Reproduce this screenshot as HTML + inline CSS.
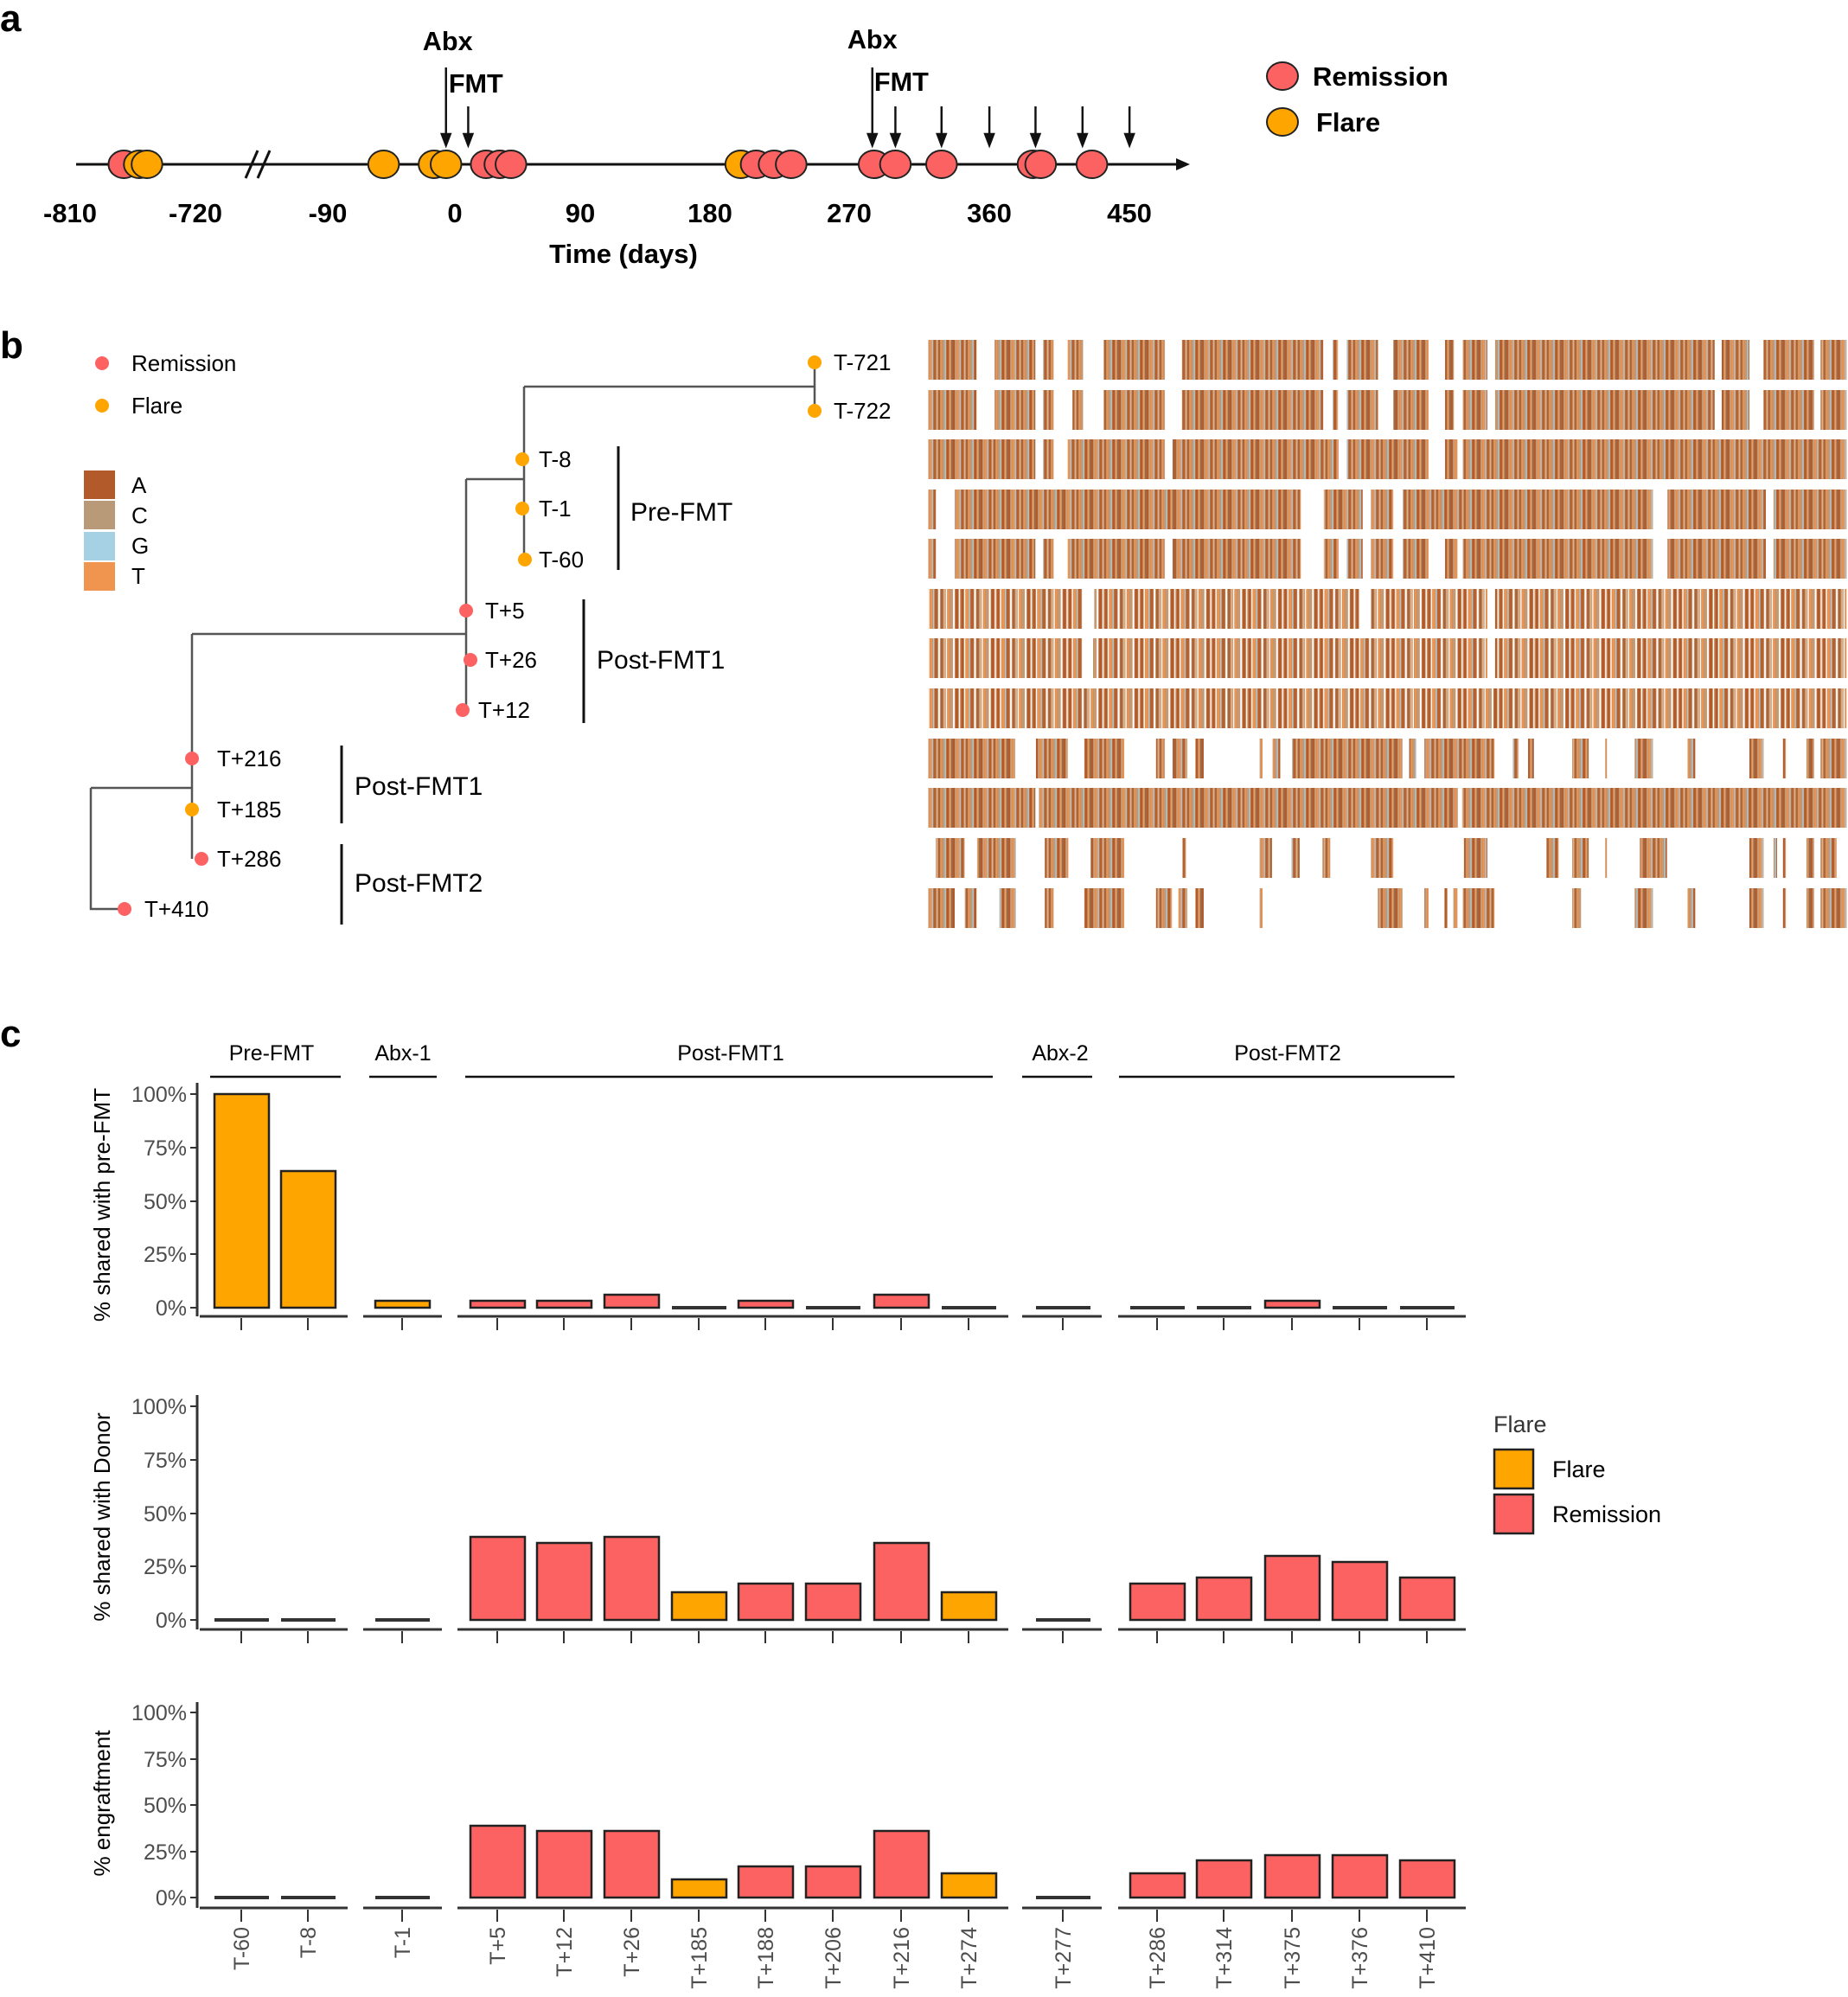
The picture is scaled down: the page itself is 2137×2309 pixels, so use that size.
<!DOCTYPE html>
<html><head><meta charset="utf-8"><style>
html,body{margin:0;padding:0;background:#fff;}
svg{display:block;font-family:"Liberation Sans",sans-serif;}
.n{font-family:"Liberation Sans Narrow","Liberation Sans",sans-serif;font-weight:bold;}
.yt{font-size:25px;fill:#4d4d4d;text-anchor:end;font-family:"Liberation Sans Narrow","Liberation Sans",sans-serif;}
.xt{font-size:25px;fill:#4d4d4d;text-anchor:end;}
.R{fill:#fd6262;stroke:#222;stroke-width:2.5;}
.O{fill:#ffa500;stroke:#222;stroke-width:2.5;}
.Z{fill:#333;}
</style></head><body>
<svg width="2137" height="2309" viewBox="0 0 2137 2309" xmlns="http://www.w3.org/2000/svg">
<defs>
<pattern id="st" patternUnits="userSpaceOnUse" width="47" height="50">
<rect width="47" height="50" fill="#c98a5a"/>
<rect x="0" width="3" height="50" fill="#b25a2a"/>
<rect x="4" width="2" height="50" fill="#c8a282"/>
<rect x="7" width="3" height="50" fill="#ef9550"/>
<rect x="11" width="2" height="50" fill="#a9cde0"/>
<rect x="14" width="4" height="50" fill="#b5602f"/>
<rect x="19" width="2" height="50" fill="#d9b38f"/>
<rect x="22" width="3" height="50" fill="#a8643a"/>
<rect x="26" width="2" height="50" fill="#ef9550"/>
<rect x="29" width="3" height="50" fill="#bf9b7a"/>
<rect x="33" width="2" height="50" fill="#a9cde0"/>
<rect x="36" width="4" height="50" fill="#b25a2a"/>
<rect x="41" width="2" height="50" fill="#e8a06a"/>
<rect x="44" width="3" height="50" fill="#9c6a48"/>
</pattern>
<pattern id="sp" patternUnits="userSpaceOnUse" width="61" height="50">
<rect width="61" height="50" fill="#c98a5a"/>
<rect x="0" width="4" height="50" fill="#b25a2a"/>
<rect x="5" width="2" height="50" fill="#fff"/>
<rect x="8" width="4" height="50" fill="#ef9550"/>
<rect x="13" width="2" height="50" fill="#a9cde0"/>
<rect x="16" width="5" height="50" fill="#b5602f"/>
<rect x="22" width="3" height="50" fill="#fff"/>
<rect x="26" width="4" height="50" fill="#a8643a"/>
<rect x="31" width="3" height="50" fill="#d9b38f"/>
<rect x="35" width="2" height="50" fill="#fff"/>
<rect x="38" width="3" height="50" fill="#ef9550"/>
<rect x="42" width="4" height="50" fill="#bf9b7a"/>
<rect x="47" width="3" height="50" fill="#fff"/>
<rect x="51" width="5" height="50" fill="#b25a2a"/>
<rect x="57" width="2" height="50" fill="#fff"/>
</pattern>
</defs>

<!-- Panel a -->
<text x="0" y="36" class="n" font-size="44">a</text>
<line x1="88" y1="190" x2="1362" y2="190" stroke="#111" stroke-width="3"/>
<polygon points="1376,190 1360,183 1360,197" fill="#111"/>
<line x1="284" y1="206" x2="298" y2="174" stroke="#111" stroke-width="3"/>
<line x1="298" y1="206" x2="312" y2="174" stroke="#111" stroke-width="3"/>
<g transform="scale(0.988,1)">
<g stroke="#222" stroke-width="2">
<ellipse cx="145" cy="190" rx="18" ry="16" fill="#fd6262"/>
<ellipse cx="163" cy="190" rx="18" ry="16" fill="#ffa500"/>
<ellipse cx="172" cy="190" rx="18" ry="16" fill="#ffa500"/>
<ellipse cx="449" cy="190" rx="18" ry="16" fill="#ffa500"/>
<ellipse cx="508" cy="190" rx="18" ry="16" fill="#ffa500"/>
<ellipse cx="522" cy="190" rx="18" ry="16" fill="#ffa500"/>
<ellipse cx="569" cy="190" rx="18" ry="16" fill="#fd6262"/>
<ellipse cx="585" cy="190" rx="18" ry="16" fill="#fd6262"/>
<ellipse cx="598" cy="190" rx="18" ry="16" fill="#fd6262"/>
<ellipse cx="867" cy="190" rx="18" ry="16" fill="#ffa500"/>
<ellipse cx="885" cy="190" rx="18" ry="16" fill="#fd6262"/>
<ellipse cx="906" cy="190" rx="18" ry="16" fill="#fd6262"/>
<ellipse cx="926" cy="190" rx="18" ry="16" fill="#fd6262"/>
<ellipse cx="1023" cy="190" rx="18" ry="16" fill="#fd6262"/>
<ellipse cx="1048" cy="190" rx="18" ry="16" fill="#fd6262"/>
<ellipse cx="1102" cy="190" rx="18" ry="16" fill="#fd6262"/>
<ellipse cx="1209" cy="190" rx="18" ry="16" fill="#fd6262"/>
<ellipse cx="1218" cy="190" rx="18" ry="16" fill="#fd6262"/>
<ellipse cx="1278" cy="190" rx="18" ry="16" fill="#fd6262"/>
</g>
<g stroke="#111" stroke-width="2.5" fill="#111">
<line x1="522" y1="78" x2="522" y2="158"/><polygon points="522,168 517,155 527,155"/>
<line x1="548" y1="123" x2="548" y2="158"/><polygon points="548,168 543,155 553,155"/>
<line x1="1021" y1="78" x2="1021" y2="158"/><polygon points="1021,168 1016,155 1026,155"/>
<line x1="1048" y1="123" x2="1048" y2="158"/><polygon points="1048,168 1043,155 1053,155"/>
<line x1="1102" y1="123" x2="1102" y2="158"/><polygon points="1102,168 1097,155 1107,155"/>
<line x1="1158" y1="123" x2="1158" y2="158"/><polygon points="1158,168 1153,155 1163,155"/>
<line x1="1212" y1="123" x2="1212" y2="158"/><polygon points="1212,168 1207,155 1217,155"/>
<line x1="1267" y1="123" x2="1267" y2="158"/><polygon points="1267,168 1262,155 1272,155"/>
<line x1="1322" y1="123" x2="1322" y2="158"/><polygon points="1322,168 1317,155 1327,155"/>
</g>
<g class="n" font-size="31" text-anchor="middle">
<text x="524" y="58">Abx</text>
<text x="1021" y="56">Abx</text>
<text x="557" y="107">FMT</text>
<text x="1055" y="105">FMT</text>
</g>
</g>
<g class="n" font-size="31" text-anchor="middle">
<text x="81" y="257">-810</text>
<text x="226" y="257">-720</text>
<text x="379" y="257">-90</text>
<text x="526" y="257">0</text>
<text x="671" y="257">90</text>
<text x="821" y="257">180</text>
<text x="982" y="257">270</text>
<text x="1144" y="257">360</text>
<text x="1306" y="257">450</text>
<text x="721" y="304">Time (days)</text>
</g>
<ellipse cx="1483" cy="88" rx="18" ry="16" fill="#fd6262" stroke="#222" stroke-width="2"/>
<ellipse cx="1483" cy="141" rx="18" ry="16" fill="#ffa500" stroke="#222" stroke-width="2"/>
<text x="1518" y="99" class="n" font-size="31">Remission</text>
<text x="1522" y="152" class="n" font-size="31">Flare</text>

<!-- Panel b -->
<text x="0" y="414" class="n" font-size="44">b</text>
<circle cx="118" cy="420" r="8" fill="#fd6262"/>
<circle cx="118" cy="469" r="8" fill="#ffa500"/>
<text x="152" y="429" font-size="26">Remission</text>
<text x="152" y="478" font-size="26">Flare</text>
<rect x="97" y="544" width="36" height="33" fill="#b25a2a"/>
<rect x="97" y="579" width="36" height="33" fill="#b89a78"/>
<rect x="97" y="615" width="36" height="33" fill="#a6d0e4"/>
<rect x="97" y="650" width="36" height="33" fill="#ef9550"/>
<g font-size="26"><text x="152" y="570">A</text><text x="152" y="605">C</text><text x="152" y="640">G</text><text x="152" y="675">T</text></g>
<g stroke="#555" stroke-width="2.5" fill="none">
<path d="M942,419 V475 M606,447 H942 M606,447 V647"/>
<path d="M539,554 H606 M539,554 V821"/>
<path d="M222,733 H539 M222,733 V993"/>
<path d="M105,911 H222 M105,911 V1051 H144"/>
</g>
<g>
<circle cx="942" cy="419" r="8" fill="#ffa500"/><circle cx="942" cy="475" r="8" fill="#ffa500"/>
<circle cx="604" cy="531" r="8" fill="#ffa500"/><circle cx="604" cy="588" r="8" fill="#ffa500"/><circle cx="607" cy="647" r="8" fill="#ffa500"/>
<circle cx="539" cy="706" r="8" fill="#fd6262"/><circle cx="544" cy="763" r="8" fill="#fd6262"/><circle cx="535" cy="821" r="8" fill="#fd6262"/>
<circle cx="222" cy="877" r="8" fill="#fd6262"/><circle cx="222" cy="936" r="8" fill="#ffa500"/><circle cx="233" cy="993" r="8" fill="#fd6262"/>
<circle cx="144" cy="1051" r="8" fill="#fd6262"/>
</g>
<g font-size="26">
<text x="964" y="428">T-721</text><text x="964" y="484">T-722</text>
<text x="623" y="540">T-8</text><text x="623" y="597">T-1</text><text x="623" y="656">T-60</text>
<text x="561" y="715">T+5</text><text x="561" y="772">T+26</text><text x="553" y="830">T+12</text>
<text x="251" y="886">T+216</text><text x="251" y="945">T+185</text><text x="251" y="1002">T+286</text>
<text x="167" y="1060">T+410</text>
</g>
<g stroke="#111" stroke-width="3">
<line x1="715" y1="516" x2="715" y2="659"/><line x1="675" y1="693" x2="675" y2="836"/>
<line x1="395" y1="862" x2="395" y2="952"/><line x1="395" y1="976" x2="395" y2="1069"/>
</g>
<g font-size="30">
<text x="729" y="602">Pre-FMT</text><text x="690" y="773">Post-FMT1</text>
<text x="410" y="919">Post-FMT1</text><text x="410" y="1031">Post-FMT2</text>
</g>

<!-- alignment -->
<g transform="translate(1070,0) scale(0.6807,1)">
<g fill="url(#st)" transform="translate(0,393)">
<rect x="5" width="82" height="46"/><rect x="118" width="69" height="46"/><rect x="200" width="18" height="46"/><rect x="242" width="26" height="46"/><rect x="303" width="104" height="46"/><rect x="436" width="240" height="46"/><rect x="692" width="9" height="46"/><rect x="716" width="53" height="46"/><rect x="795" width="60" height="46"/><rect x="883" width="15" height="46"/><rect x="913" width="42" height="46"/><rect x="968" width="373" height="46"/><rect x="1353" width="47" height="46"/><rect x="1424" width="86" height="46"/><rect x="1521" width="44" height="46"/>
</g>
<g fill="url(#st)" transform="translate(0,451)">
<rect x="5" width="82" height="46"/><rect x="118" width="69" height="46"/><rect x="200" width="18" height="46"/><rect x="250" width="18" height="46"/><rect x="303" width="104" height="46"/><rect x="436" width="240" height="46"/><rect x="692" width="9" height="46"/><rect x="716" width="53" height="46"/><rect x="795" width="60" height="46"/><rect x="883" width="15" height="46"/><rect x="913" width="42" height="46"/><rect x="968" width="373" height="46"/><rect x="1353" width="47" height="46"/><rect x="1424" width="86" height="46"/><rect x="1521" width="44" height="46"/>
</g>
<g fill="url(#st)" transform="translate(0,508)">
<rect x="5" width="182" height="46"/><rect x="200" width="18" height="46"/><rect x="242" width="165" height="46"/><rect x="420" width="282" height="46"/><rect x="716" width="139" height="46"/><rect x="883" width="21" height="46"/><rect x="913" width="652" height="46"/>
</g>
<g fill="url(#st)" transform="translate(0,566)">
<rect x="5" width="13" height="46"/><rect x="50" width="588" height="46"/><rect x="677" width="66" height="46"/><rect x="757" width="38" height="46"/><rect x="811" width="425" height="46"/><rect x="1261" width="167" height="46"/><rect x="1441" width="124" height="46"/>
</g>
<g fill="url(#st)" transform="translate(0,623)">
<rect x="5" width="13" height="46"/><rect x="50" width="137" height="46"/><rect x="200" width="18" height="46"/><rect x="242" width="165" height="46"/><rect x="420" width="218" height="46"/><rect x="677" width="25" height="46"/><rect x="716" width="27" height="46"/><rect x="757" width="38" height="46"/><rect x="811" width="44" height="46"/><rect x="883" width="21" height="46"/><rect x="913" width="323" height="46"/><rect x="1261" width="167" height="46"/><rect x="1441" width="124" height="46"/>
</g>
<g fill="url(#sp)" transform="translate(0,681)">
<rect x="5" width="263" height="46"/><rect x="287" width="450" height="46"/><rect x="757" width="198" height="46"/><rect x="968" width="597" height="46"/>
</g>
<g fill="url(#sp)" transform="translate(0,738)">
<rect x="5" width="263" height="46"/><rect x="285" width="670" height="46"/><rect x="968" width="597" height="46"/>
</g>
<g fill="url(#sp)" transform="translate(0,796)">
<rect x="5" width="1560" height="46"/>
</g>
<g fill="url(#st)" transform="translate(0,854)">
<rect x="5" width="148" height="46"/><rect x="188" width="54" height="46"/><rect x="270" width="68" height="46"/><rect x="392" width="15" height="46"/><rect x="420" width="25" height="46"/><rect x="459" width="14" height="46"/><rect x="568" width="5" height="46"/><rect x="590" width="13" height="46"/><rect x="623" width="188" height="46"/><rect x="822" width="12" height="46"/><rect x="848" width="119" height="46"/><rect x="998" width="10" height="46"/><rect x="1024" width="10" height="46"/><rect x="1099" width="28" height="46"/><rect x="1155" width="3" height="46"/><rect x="1205" width="31" height="46"/><rect x="1295" width="13" height="46"/><rect x="1400" width="24" height="46"/><rect x="1457" width="5" height="46"/><rect x="1497" width="13" height="46"/><rect x="1521" width="44" height="46"/>
</g>
<g fill="url(#st)" transform="translate(0,911)">
<rect x="5" width="182" height="46"/><rect x="193" width="712" height="46"/><rect x="912" width="653" height="46"/>
</g>
<g fill="url(#st)" transform="translate(0,969)">
<rect x="18" width="49" height="46"/><rect x="88" width="66" height="46"/><rect x="203" width="40" height="46"/><rect x="281" width="57" height="46"/><rect x="437" width="6" height="46"/><rect x="568" width="21" height="46"/><rect x="622" width="14" height="46"/><rect x="675" width="13" height="46"/><rect x="757" width="38" height="46"/><rect x="915" width="40" height="46"/><rect x="1055" width="21" height="46"/><rect x="1099" width="28" height="46"/><rect x="1155" width="3" height="46"/><rect x="1214" width="46" height="46"/><rect x="1400" width="24" height="46"/><rect x="1441" width="6" height="46"/><rect x="1457" width="5" height="46"/><rect x="1497" width="13" height="46"/><rect x="1521" width="27" height="46"/>
</g>
<g fill="url(#st)" transform="translate(0,1027)">
<rect x="5" width="45" height="46"/><rect x="67" width="20" height="46"/><rect x="126" width="28" height="46"/><rect x="203" width="15" height="46"/><rect x="270" width="68" height="46"/><rect x="392" width="27" height="46"/><rect x="430" width="15" height="46"/><rect x="459" width="14" height="46"/><rect x="568" width="5" height="46"/><rect x="769" width="42" height="46"/><rect x="848" width="7" height="46"/><rect x="882" width="5" height="46"/><rect x="897" width="7" height="46"/><rect x="913" width="54" height="46"/><rect x="1099" width="15" height="46"/><rect x="1205" width="31" height="46"/><rect x="1295" width="13" height="46"/><rect x="1400" width="24" height="46"/><rect x="1457" width="5" height="46"/><rect x="1497" width="13" height="46"/><rect x="1521" width="44" height="46"/>
</g>
</g>

<!-- Panel c -->
<text x="0" y="1210" class="n" font-size="44">c</text>
<g font-size="25" text-anchor="middle" font-family="Liberation Sans Narrow, Liberation Sans, sans-serif">
<text x="314" y="1226">Pre-FMT</text><text x="466" y="1226">Abx-1</text><text x="845" y="1226">Post-FMT1</text><text x="1226" y="1226">Abx-2</text><text x="1489" y="1226">Post-FMT2</text>
</g>
<g stroke="#111" stroke-width="2.5">
<line x1="243" y1="1245" x2="394" y2="1245"/><line x1="427" y1="1245" x2="505" y2="1245"/><line x1="538" y1="1245" x2="1148" y2="1245"/><line x1="1182" y1="1245" x2="1263" y2="1245"/><line x1="1294" y1="1245" x2="1682" y2="1245"/>
</g>

<g stroke="#333" stroke-width="3">
<line x1="228" y1="1252" x2="228" y2="1522"/>
<line x1="231" y1="1522" x2="402" y2="1522"/><line x1="420" y1="1522" x2="511" y2="1522"/><line x1="529" y1="1522" x2="1166" y2="1522"/><line x1="1182" y1="1522" x2="1274" y2="1522"/><line x1="1293" y1="1522" x2="1695" y2="1522"/>
<line x1="228" y1="1613" x2="228" y2="1884"/>
<line x1="231" y1="1884" x2="402" y2="1884"/><line x1="420" y1="1884" x2="511" y2="1884"/><line x1="529" y1="1884" x2="1166" y2="1884"/><line x1="1182" y1="1884" x2="1274" y2="1884"/><line x1="1293" y1="1884" x2="1695" y2="1884"/>
<line x1="228" y1="1968" x2="228" y2="2206"/>
<line x1="231" y1="2206" x2="402" y2="2206"/><line x1="420" y1="2206" x2="511" y2="2206"/><line x1="529" y1="2206" x2="1166" y2="2206"/><line x1="1182" y1="2206" x2="1274" y2="2206"/><line x1="1293" y1="2206" x2="1695" y2="2206"/>
</g>
<g stroke="#333" stroke-width="2">
<path d="M279,1524v14M356,1524v14M465,1524v14M575,1524v14M652,1524v14M730,1524v14M808,1524v14M885,1524v14M963,1524v14M1042,1524v14M1120,1524v14M1229,1524v14M1338,1524v14M1415,1524v14M1494,1524v14M1572,1524v14M1650,1524v14"/>
<path d="M279,1886v14M356,1886v14M465,1886v14M575,1886v14M652,1886v14M730,1886v14M808,1886v14M885,1886v14M963,1886v14M1042,1886v14M1120,1886v14M1229,1886v14M1338,1886v14M1415,1886v14M1494,1886v14M1572,1886v14M1650,1886v14"/>
<path d="M279,2208v14M356,2208v14M465,2208v14M575,2208v14M652,2208v14M730,2208v14M808,2208v14M885,2208v14M963,2208v14M1042,2208v14M1120,2208v14M1229,2208v14M1338,2208v14M1415,2208v14M1494,2208v14M1572,2208v14M1650,2208v14"/>
<path d="M220,1265h8M220,1327h8M220,1389h8M220,1450h8M220,1512h8"/>
<path d="M220,1626h8M220,1688h8M220,1750h8M220,1811h8M220,1873h8"/>
<path d="M220,1980h8M220,2034h8M220,2087h8M220,2141h8M220,2194h8"/>
</g>
<g class="yt">
<text x="216" y="1274">100%</text><text x="216" y="1336">75%</text><text x="216" y="1398">50%</text><text x="216" y="1459">25%</text><text x="216" y="1521">0%</text>
<text x="216" y="1635">100%</text><text x="216" y="1697">75%</text><text x="216" y="1759">50%</text><text x="216" y="1820">25%</text><text x="216" y="1882">0%</text>
<text x="216" y="1989">100%</text><text x="216" y="2043">75%</text><text x="216" y="2096">50%</text><text x="216" y="2150">25%</text><text x="216" y="2203">0%</text>
</g>
<g font-size="26" text-anchor="middle">
<text transform="translate(127,1393) rotate(-90)">% shared with pre-FMT</text>
<text transform="translate(127,1754) rotate(-90)">% shared with Donor</text>
<text transform="translate(127,2085) rotate(-90)">% engraftment</text>
</g>

<rect class="O" x="248" y="1265" width="63" height="247"/>
<rect class="O" x="325" y="1354" width="63" height="158"/>
<rect class="O" x="434" y="1504" width="63" height="8"/>
<rect class="R" x="544" y="1504" width="63" height="8"/>
<rect class="R" x="621" y="1504" width="63" height="8"/>
<rect class="R" x="699" y="1497" width="63" height="15"/>
<rect class="Z" x="777" y="1510" width="63" height="4"/>
<rect class="R" x="854" y="1504" width="63" height="8"/>
<rect class="Z" x="932" y="1510" width="63" height="4"/>
<rect class="R" x="1011" y="1497" width="63" height="15"/>
<rect class="Z" x="1089" y="1510" width="63" height="4"/>
<rect class="Z" x="1198" y="1510" width="63" height="4"/>
<rect class="Z" x="1307" y="1510" width="63" height="4"/>
<rect class="Z" x="1384" y="1510" width="63" height="4"/>
<rect class="R" x="1463" y="1504" width="63" height="8"/>
<rect class="Z" x="1541" y="1510" width="63" height="4"/>
<rect class="Z" x="1619" y="1510" width="63" height="4"/>

<rect class="Z" x="248" y="1871" width="63" height="4"/>
<rect class="Z" x="325" y="1871" width="63" height="4"/>
<rect class="Z" x="434" y="1871" width="63" height="4"/>
<rect class="R" x="544" y="1777" width="63" height="96"/>
<rect class="R" x="621" y="1784" width="63" height="89"/>
<rect class="R" x="699" y="1777" width="63" height="96"/>
<rect class="O" x="777" y="1841" width="63" height="32"/>
<rect class="R" x="854" y="1831" width="63" height="42"/>
<rect class="R" x="932" y="1831" width="63" height="42"/>
<rect class="R" x="1011" y="1784" width="63" height="89"/>
<rect class="O" x="1089" y="1841" width="63" height="32"/>
<rect class="Z" x="1198" y="1871" width="63" height="4"/>
<rect class="R" x="1307" y="1831" width="63" height="42"/>
<rect class="R" x="1384" y="1824" width="63" height="49"/>
<rect class="R" x="1463" y="1799" width="63" height="74"/>
<rect class="R" x="1541" y="1806" width="63" height="67"/>
<rect class="R" x="1619" y="1824" width="63" height="49"/>

<rect class="Z" x="248" y="2192" width="63" height="4"/>
<rect class="Z" x="325" y="2192" width="63" height="4"/>
<rect class="Z" x="434" y="2192" width="63" height="4"/>
<rect class="R" x="544" y="2111" width="63" height="83"/>
<rect class="R" x="621" y="2117" width="63" height="77"/>
<rect class="R" x="699" y="2117" width="63" height="77"/>
<rect class="O" x="777" y="2173" width="63" height="21"/>
<rect class="R" x="854" y="2158" width="63" height="36"/>
<rect class="R" x="932" y="2158" width="63" height="36"/>
<rect class="R" x="1011" y="2117" width="63" height="77"/>
<rect class="O" x="1089" y="2166" width="63" height="28"/>
<rect class="Z" x="1198" y="2192" width="63" height="4"/>
<rect class="R" x="1307" y="2166" width="63" height="28"/>
<rect class="R" x="1384" y="2151" width="63" height="43"/>
<rect class="R" x="1463" y="2145" width="63" height="49"/>
<rect class="R" x="1541" y="2145" width="63" height="49"/>
<rect class="R" x="1619" y="2151" width="63" height="43"/>

<g class="xt">
<text transform="translate(288,2228) rotate(-90)">T-60</text>
<text transform="translate(365,2228) rotate(-90)">T-8</text>
<text transform="translate(474,2228) rotate(-90)">T-1</text>
<text transform="translate(584,2228) rotate(-90)">T+5</text>
<text transform="translate(661,2228) rotate(-90)">T+12</text>
<text transform="translate(739,2228) rotate(-90)">T+26</text>
<text transform="translate(817,2228) rotate(-90)">T+185</text>
<text transform="translate(894,2228) rotate(-90)">T+188</text>
<text transform="translate(972,2228) rotate(-90)">T+206</text>
<text transform="translate(1051,2228) rotate(-90)">T+216</text>
<text transform="translate(1129,2228) rotate(-90)">T+274</text>
<text transform="translate(1238,2228) rotate(-90)">T+277</text>
<text transform="translate(1347,2228) rotate(-90)">T+286</text>
<text transform="translate(1424,2228) rotate(-90)">T+314</text>
<text transform="translate(1503,2228) rotate(-90)">T+375</text>
<text transform="translate(1581,2228) rotate(-90)">T+376</text>
<text transform="translate(1659,2228) rotate(-90)">T+410</text>
</g>

<text x="1727" y="1656" font-size="27" fill="#333">Flare</text>
<rect x="1728" y="1676" width="45" height="45" fill="#ffa500" stroke="#222" stroke-width="2.5"/>
<rect x="1728" y="1728" width="45" height="45" fill="#fd6262" stroke="#222" stroke-width="2.5"/>
<text x="1795" y="1708" font-size="27">Flare</text>
<text x="1795" y="1760" font-size="27">Remission</text>
</svg>
</body></html>
